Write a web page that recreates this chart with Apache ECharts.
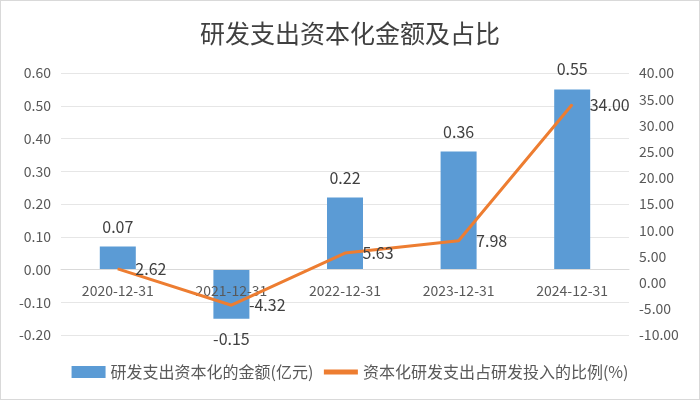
<!DOCTYPE html>
<html><head><meta charset="utf-8">
<script src="https://cdn.jsdelivr.net/npm/echarts@6/dist/echarts.min.js"></script>
<style>html,body{margin:0;padding:0;background:#fff}#c{width:700px;height:400px;box-sizing:border-box;border:1px solid #d9d9d9}</style>
</head><body><div id="c"></div>
<script>
var categories = ['2020-12-31','2021-12-31','2022-12-31','2023-12-31','2024-12-31'];
var amount = [0.07, -0.15, 0.22, 0.36, 0.55];
var ratio = [2.62, -4.32, 5.63, 7.98, 34.00];
var seriesNames = ['研发支出资本化的金额(亿元)','资本化研发支出占研发投入的比例(%)'];
var chart = echarts.init(document.getElementById('c'));
var font = '"Microsoft YaHei","Noto Sans CJK SC",sans-serif';
var fmt2 = function(v){ return (typeof v === 'object' ? v.value : v).toFixed(2); };
chart.setOption({
  animation:false,
  title:{text:'研发支出资本化金额及占比',left:'center',top:15,textStyle:{fontFamily:font,fontSize:25,fontWeight:'normal',color:'#404040'}},
  grid:{left:60,right:70,top:72,bottom:64},
  legend:{bottom:14,left:'center',itemGap:8,itemWidth:34,itemHeight:12,textStyle:{fontFamily:font,fontSize:16,color:'#595959'},
    data:[{name:seriesNames[0],icon:'rect'},{name:seriesNames[1],itemStyle:{opacity:0},lineStyle:{width:5}}]},
  xAxis:{type:'category',data:categories,z:2,offset:0,axisLine:{onZero:true,onZeroAxisIndex:0,lineStyle:{color:'#d9d9d9'}},axisTick:{show:false},
    axisLabel:{fontFamily:font,fontSize:14,color:'#595959',margin:14}},
  yAxis:[
    {type:'value',min:-0.2,max:0.6,interval:0.1,axisLabel:{formatter:fmt2,fontFamily:font,fontSize:14,color:'#595959',margin:10},
      splitLine:{lineStyle:{color:'#e6e6e6'}},axisLine:{show:false},axisTick:{show:false}},
    {type:'value',min:-10,max:40,interval:5,axisLabel:{formatter:fmt2,fontFamily:font,fontSize:14,color:'#595959',margin:10},
      splitLine:{show:false},axisLine:{show:false},axisTick:{show:false}}
  ],
  series:[
    {name:seriesNames[0],type:'bar',z:1,barWidth:36,itemStyle:{color:'#5B9BD5'},
      data:amount.map(function(v){ return {value:v,label:{position:v<0?'bottom':'top'}}; }),
      label:{show:true,distance:12,fontFamily:font,fontSize:16,color:'#404040',formatter:function(p){return p.value.toFixed(2);}}},
    {name:seriesNames[1],type:'line',z:3,yAxisIndex:1,data:ratio,symbol:'circle',symbolSize:1,showSymbol:true,lineStyle:{color:'#ED7D31',width:3},itemStyle:{color:'#ED7D31'},
      label:{show:true,position:'right',distance:17,fontFamily:font,fontSize:16,color:'#404040',formatter:function(p){return p.value.toFixed(2);}}}
  ]
});
// move the category labels up to the zero line, as in the reference
var zeroY = chart.convertToPixel({yAxisIndex:0}, 0);
var bottomY = chart.convertToPixel({yAxisIndex:0}, -0.2);
chart.setOption({xAxis:{offset: zeroY - bottomY, axisLine:{onZero:false}}});
</script></body></html>
